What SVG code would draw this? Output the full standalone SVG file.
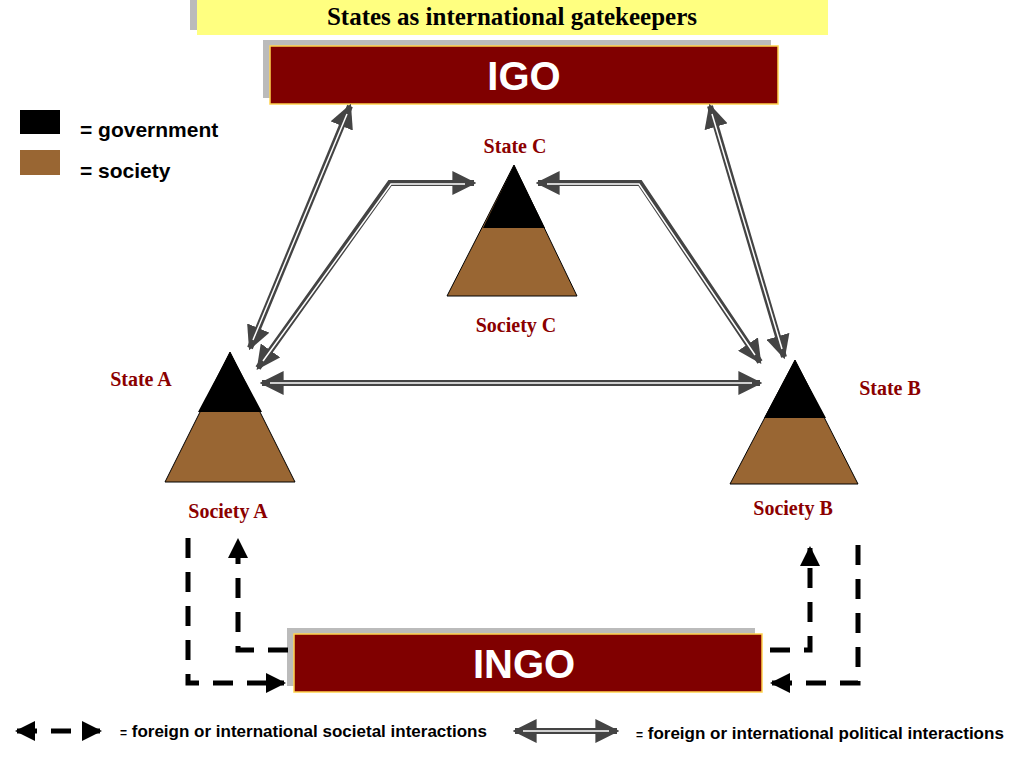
<svg xmlns="http://www.w3.org/2000/svg" width="1024" height="768" viewBox="0 0 1024 768">
<style>
.lbl{font-family:"Liberation Serif",serif;font-weight:bold;font-size:20px;fill:#8b0000;text-anchor:middle}
.box{fill:#800000;stroke:#ffd24d;stroke-width:1.5}
.bt{font-family:"Liberation Sans",Arial,sans-serif;font-weight:bold;font-size:40px;fill:#fff;text-anchor:middle}
.leg{font-family:"Liberation Sans",Arial,sans-serif;font-weight:bold;fill:#000}
.po{fill:none;stroke:#444;stroke-width:6}
.pi{fill:none;stroke:#fff;stroke-width:1.5}
.da{fill:none;stroke:#000;stroke-width:5;stroke-dasharray:20 14}
</style>
<defs>
<marker id="g" viewBox="0 0 10 10" refX="9" refY="5" markerWidth="4" markerHeight="4" orient="auto-start-reverse" markerUnits="strokeWidth"><path d="M0,0L10,5L0,10z" fill="#444"/></marker>
<marker id="k" viewBox="0 0 10 10" refX="9" refY="5" markerWidth="4" markerHeight="4" orient="auto-start-reverse" markerUnits="strokeWidth"><path d="M0,0L10,5L0,10z" fill="#000"/></marker>
</defs>
<g id="title"><rect x="190" y="0" width="631" height="30" fill="#bbb"/><rect x="197" y="0" width="631" height="35" fill="#ffff80"/><text x="512" y="25" font-family="Liberation Serif,serif" font-weight="bold" font-size="25" text-anchor="middle">States as international gatekeepers</text></g>
<g id="igo"><rect x="263" y="40" width="508" height="58" fill="#bbb"/><rect class="box" x="270" y="46" width="508" height="58"/><text class="bt" x="524" y="90">IGO</text></g>
<g id="ingo"><rect x="287" y="628" width="468" height="58" fill="#bbb"/><rect class="box" x="294" y="634" width="468" height="58"/><text class="bt" x="524" y="678">INGO</text></g>
<g id="legend"><rect x="20" y="110" width="40" height="24" fill="#000"/><rect x="20" y="150" width="40" height="25" fill="#996633"/>
<text class="leg" x="80" y="137" font-size="21">= government</text><text class="leg" x="80" y="178" font-size="21">= society</text>
<text class="leg" x="120" y="737" font-size="17"><tspan font-size="12">=</tspan> foreign or international societal interactions</text>
<text class="leg" x="636" y="739" font-size="17"><tspan font-size="12">=</tspan> foreign or international political interactions</text></g>
<g id="stateA"><polygon points="230,352 295,482 165,482" fill="#996633" stroke="#000"/><polygon points="230,352 262,412 198,412" fill="#000"/><text class="lbl" x="141" y="386">State A</text><text class="lbl" x="228" y="518">Society A</text></g>
<g id="stateC"><polygon points="514,165 577,296 447,296" fill="#996633" stroke="#000"/><polygon points="514,165 545,228 483,228" fill="#000"/><text class="lbl" x="515" y="153">State C</text><text class="lbl" x="516" y="332">Society C</text></g>
<g id="stateB"><polygon points="795,360 858,484 730,484" fill="#996633" stroke="#000"/><polygon points="795,360 826,418 764,418" fill="#000"/><text class="lbl" x="890" y="395">State B</text><text class="lbl" x="793" y="515">Society B</text></g>
<g id="connectors">
<g marker-start="url(#g)" marker-end="url(#g)" class="po">
<path d="M350,106L250,348"/><path d="M710,106L784,357"/><path d="M258,368L390,183L474,183"/><path d="M538,183L640,183L760,362"/><path d="M262,383L760,383"/><path d="M515,731L617,731"/>
</g>
<g class="pi"><path d="M347,114L253,340"/><path d="M712,114L782,349"/><path d="M263,361L391,184L465,184"/><path d="M547,184L639,184L755,355"/><path d="M270,383L752,383"/><path d="M523,731L609,731"/></g>
<g class="da"><path d="M188,538V683H284" marker-end="url(#k)"/><path d="M288,650H238V540" marker-end="url(#k)"/><path d="M770,650H810V548" marker-end="url(#k)"/><path d="M858,545V683H772" marker-end="url(#k)"/><path d="M17,731H100" marker-start="url(#k)" marker-end="url(#k)"/></g>
</g>
</svg>
